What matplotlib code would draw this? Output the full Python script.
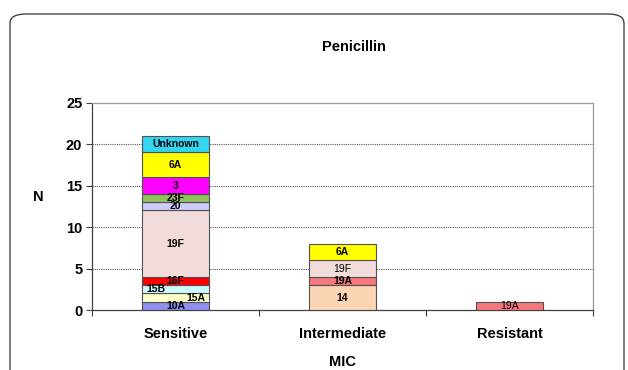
import matplotlib
matplotlib.use("Agg")
import matplotlib.pyplot as plt
from matplotlib import font_manager
from matplotlib.patches import FancyBboxPatch

# --- data -------------------------------------------------------------
categories = ["Sensitive", "Intermediate", "Resistant"]

sens_types = ["10A", "15A", "15B", "16F", "19F", "20", "23F", "3", "6A", "Unknown"]
sens_counts = [1, 1, 1, 1, 8, 1, 1, 2, 3, 2]

inter_types = ["14", "19A", "19F", "6A"]
inter_counts = [3, 1, 2, 2]

resist_types = ["19A"]
resist_counts = [1]

serotype_colors = {
    "10A": "#8F8FEF",
    "15A": "#FFFFCC",
    "15B": "#CCFFFF",
    "16F": "#FF0000",
    "19F": "#F2DCDB",
    "20": "#CCCCFF",
    "23F": "#92C05A",
    "3": "#FF00FF",
    "6A": "#FFFF00",
    "Unknown": "#33D6F0",
    "14": "#FCD5B4",
    "19A": "#F7787C",
}

# --- fonts ------------------------------------------------------------
available = {f.name for f in font_manager.fontManager.ttflist}
narrow = "Liberation Sans Narrow" if "Liberation Sans Narrow" in available else "Liberation Sans"
plt.rcParams["font.family"] = ["Liberation Sans", "DejaVu Sans"]

fig = plt.figure(figsize=(6.28, 3.70), dpi=100)
fig.patch.set_facecolor("white")

# rounded outer frame
frame = FancyBboxPatch((10 / 628, -0.2), (624 - 10) / 628, 1.2 - 14 / 370,
                       boxstyle="round,pad=0,rounding_size=0.025",
                       transform=fig.transFigure, facecolor="none",
                       edgecolor="#333333", linewidth=0.9, clip_on=False)
fig.patches.append(frame)

ax = fig.add_axes([92 / 628, 60 / 370, (593 - 92) / 628, (310 - 102.7) / 370])

# per-label horizontal nudges (in data units) and weights
label_dx = {("Sensitive", "15B"): -0.12, ("Sensitive", "15A"): 0.12}
light_labels = {("Intermediate", "19F"), ("Resistant", "19A")}

stacks = [(sens_types, sens_counts), (inter_types, inter_counts), (resist_types, resist_counts)]
width = 0.4
for xi, (cat, (types, counts)) in enumerate(zip(categories, stacks)):
    bottom = 0
    for t, c in zip(types, counts):
        ax.bar(xi, c, width=width, bottom=bottom, color=serotype_colors[t],
               edgecolor="#505050", linewidth=0.8, zorder=3)
        weight = "normal" if (cat, t) in light_labels else "bold"
        ax.text(xi + label_dx.get((cat, t), 0.0), bottom + c / 2, t,
                ha="center", va="center", fontsize=7.5, fontweight=weight,
                family=[narrow, "DejaVu Sans"], color="black", zorder=4)
        bottom += c

ax.set_xlim(-0.5, 2.5)
ax.set_ylim(0, 25)
ax.set_yticks([0, 5, 10, 15, 20, 25])
ax.set_xticks([0, 1, 2])
ax.set_xticklabels(categories)
ax.set_xticks([-0.5, 0.5, 1.5, 2.5], minor=True)
ax.tick_params(axis="x", which="major", length=0, pad=12, labelsize=10.5)
ax.tick_params(axis="x", which="minor", length=4, width=0.8, color="#404040", direction="out")
ax.tick_params(axis="y", length=4, width=0.8, color="#404040", labelsize=10.5, pad=3)
for lbl in ax.get_xticklabels() + ax.get_yticklabels():
    lbl.set_fontweight("bold")

for y in [5, 10, 15, 20]:
    ax.axhline(y, color="#555555", linestyle=(0, (1, 1)), linewidth=0.8, zorder=1)

ax.spines["left"].set_color("#404040")
ax.spines["bottom"].set_color("#404040")
ax.spines["top"].set_color("#9a9a9a")
ax.spines["right"].set_color("#9a9a9a")
for s in ax.spines.values():
    s.set_linewidth(0.9)

ax.set_ylabel("N", fontsize=10.5, fontweight="bold", rotation=0, labelpad=0)
ax.yaxis.set_label_coords(-0.108, 0.51)
ax.set_xlabel("MIC", fontsize=10.5, fontweight="bold", labelpad=10)

fig.text(354 / 628, 1 - 47 / 370, "Penicillin", ha="center", va="center",
         fontsize=10.5, fontweight="bold")

fig.savefig("out.png", dpi=100)
